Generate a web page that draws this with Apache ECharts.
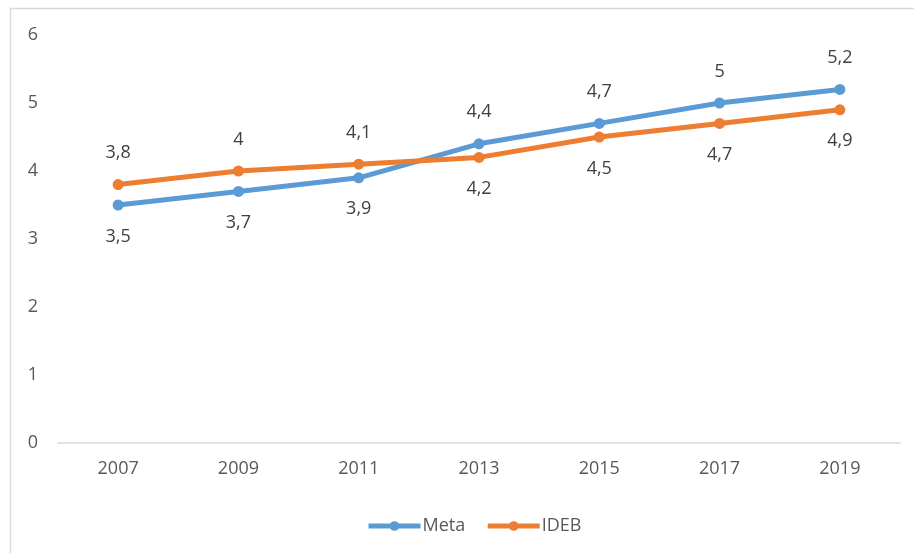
<!DOCTYPE html>
<html>
<head>
<meta charset="utf-8">
<script src="https://cdn.jsdelivr.net/npm/echarts@6/dist/echarts.min.js"></script>
<style>
  html, body { margin: 0; padding: 0; background: #fff; }
  #main { width: 914px; height: 553px; }
</style>
</head>
<body>
<div id="main"></div>
<script>
// anos e valores
var anos = ["2007", "2009", "2011", "2013", "2015", "2017", "2019"];
var meta = [3.5, 3.7, 3.9, 4.4, 4.7, 5, 5.2];
var ideb = [3.8, 4, 4.1, 4.2, 4.5, 4.7, 4.9];
// onde fica o rotulo de cada ponto
var posMeta = ["bottom", "bottom", "bottom", "top", "top", "top", "top"];
var posIdeb = ["top", "top", "top", "bottom", "bottom", "bottom", "bottom"];

var fonte = "Open Sans, Liberation Sans, sans-serif";

function pontos(vals, pos) {
  return vals.map(function (v, i) {
    return {
      value: v,
      label: { position: pos[i] }
    };
  });
}

function fmt(p) {
  return String(p.value).replace(".", ",");
}

var myChart = echarts.init(document.getElementById("main"));
var option = {
  animation: false,
  textStyle: { fontFamily: fonte },
  graphic: [
    { type: "line", shape: { x1: 10, y1: 8.5, x2: 914, y2: 8.5 }, style: { stroke: "#d9d9d9", lineWidth: 1.5 } },
    { type: "line", shape: { x1: 10.5, y1: 8, x2: 10.5, y2: 553 }, style: { stroke: "#d9d9d9", lineWidth: 1.5 } }
  ],
  grid: { left: 58, right: 14, top: 35, bottom: 110 },
  legend: {
    data: ["Meta", "IDEB"],
    top: 512,
    left: 361,
    itemWidth: 52,
    itemHeight: 12,
    itemGap: 20,
    lineStyle: { width: 5 },
    textStyle: { color: "#595959", fontSize: 18, fontFamily: fonte, padding: [0, 0, 0, -3] }
  },
  xAxis: {
    type: "category",
    data: anos,
    axisLine: { lineStyle: { color: "#d9d9d9", width: 1.5 } },
    axisTick: { show: false },
    axisLabel: { color: "#595959", fontSize: 18, margin: 17 }
  },
  yAxis: {
    type: "value",
    min: 0,
    max: 6,
    interval: 1,
    splitLine: { show: false },
    axisLine: { show: false },
    axisTick: { show: false },
    axisLabel: { color: "#595959", fontSize: 18, margin: 20, align: "right" }
  },
  series: [
    {
      name: "Meta",
      type: "line",
      data: pontos(meta, posMeta),
      symbol: "circle",
      symbolSize: 11,
      lineStyle: { width: 5, color: "#5b9bd5" },
      itemStyle: { color: "#5b9bd5" },
      label: { show: true, distance: 17, color: "#404040", fontSize: 18, formatter: fmt }
    },
    {
      name: "IDEB",
      type: "line",
      data: pontos(ideb, posIdeb),
      symbol: "circle",
      symbolSize: 11,
      lineStyle: { width: 5, color: "#ed7d31" },
      itemStyle: { color: "#ed7d31" },
      label: { show: true, distance: 17, color: "#404040", fontSize: 18, formatter: fmt }
    }
  ]
};
myChart.setOption(option);
</script>
</body>
</html>
